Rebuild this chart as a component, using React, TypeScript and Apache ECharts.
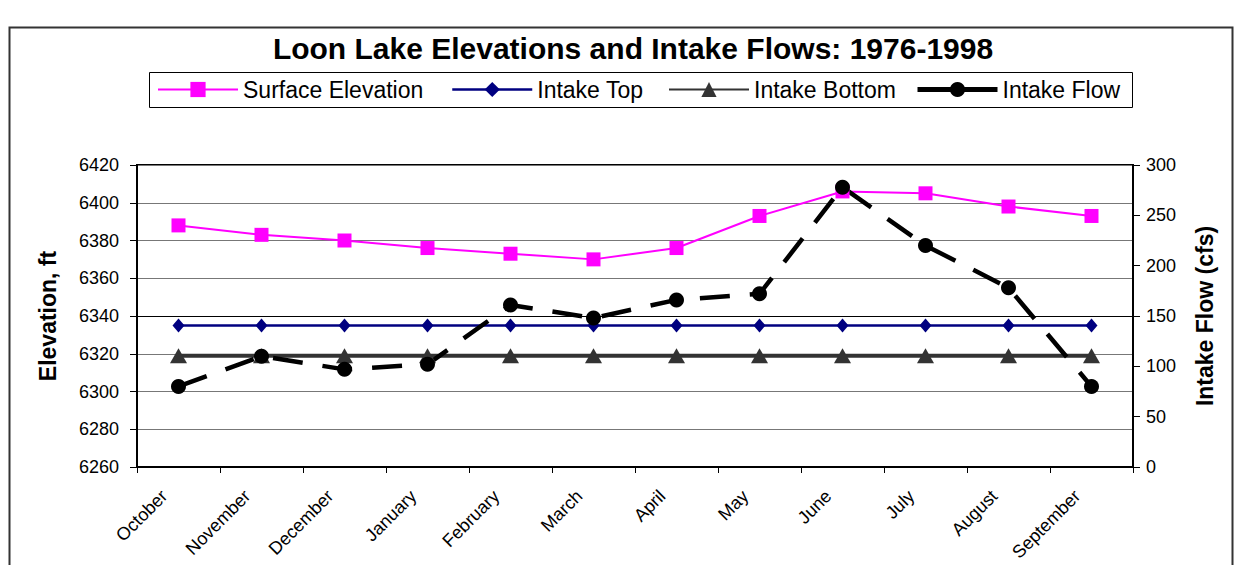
import React, { useEffect, useRef } from "react";
import * as echarts from "echarts";

const months = ["October", "November", "December", "January", "February", "March", "April", "May", "June", "July", "August", "September"];
const surfaceElevation = [6388, 6383, 6380, 6376, 6373, 6370, 6376, 6393, 6406, 6405, 6398, 6393];
const intakeTop = [6335, 6335, 6335, 6335, 6335, 6335, 6335, 6335, 6335, 6335, 6335, 6335];
const intakeBottom = [6319, 6319, 6319, 6319, 6319, 6319, 6319, 6319, 6319, 6319, 6319, 6319];
const intakeFlow = [80, 110, 97, 102, 161, 148, 166, 172, 278, 220, 178, 80];
const seriesNames = ["Surface Elevation", "Intake Top", "Intake Bottom", "Intake Flow"];

const FONT = "'Liberation Sans', Arial, Helvetica, sans-serif";
const legendLefts = [157, 451, 668, 915];
const legendLineWidths = [2, 2.5, 2, 5];

export default function App() {
  const ref = useRef<HTMLDivElement>(null);
  useEffect(() => {
    document.body.style.margin = "0";
    const chart = echarts.init(ref.current!, null, { renderer: "svg" });
    chart.setOption({
      animation: false,
      backgroundColor: "#fff",
      textStyle: { fontFamily: FONT },
      title: {
        text: "Loon Lake Elevations and Intake Flows: 1976-1998",
        left: 628,
        textAlign: "center",
        top: 28,
        textStyle: { fontFamily: FONT, fontSize: 30, fontWeight: "bold", color: "#000" },
      },
      graphic: [
        {
          type: "rect",
          shape: { x: 9.5, y: 27.5, width: 1223, height: 600 },
          style: { fill: "none", stroke: "#333", lineWidth: 2 },
          silent: true,
        },
        {
          type: "rect",
          shape: { x: 149.5, y: 72.5, width: 983, height: 35 },
          style: { fill: "none", stroke: "#000", lineWidth: 1 },
          silent: true,
          z: 10,
        },
      ],
      legend: seriesNames.map((name, i) => ({
        left: legendLefts[i],
        top: 78,
        padding: 0,
        itemWidth: 80,
        itemHeight: 19,
        lineStyle: { type: "solid", width: legendLineWidths[i] },
        textStyle: { fontFamily: FONT, fontSize: 23, color: "#000" },
        data: [name],
      })),
      grid: {
        left: 137,
        right: 103,
        top: 165,
        bottom: 98,
        show: true,
        borderColor: "#000",
        borderWidth: 2,
      },
      xAxis: {
        type: "category",
        data: months,
        boundaryGap: true,
        axisLine: { lineStyle: { color: "#000", width: 2 } },
        axisTick: { show: true, length: 6, lineStyle: { color: "#000", width: 1 } },
        axisLabel: {
          rotate: 45,
          fontSize: 18,
          color: "#000",
          margin: 12,
          fontFamily: FONT,
          interval: 0,
          padding: [0, 20, 0, 0],
        },
      },
      yAxis: [
        {
          type: "value",
          min: 6260,
          max: 6420,
          interval: 20,
          name: "Elevation, ft",
          nameLocation: "middle",
          nameGap: 78,
          nameTextStyle: { fontFamily: FONT, fontSize: 23, fontWeight: "bold", color: "#000" },
          axisLine: { show: true, lineStyle: { color: "#000", width: 2 } },
          axisTick: { show: true, length: 7, lineStyle: { color: "#000", width: 1 } },
          axisLabel: { fontSize: 18, color: "#000", margin: 18, fontFamily: FONT, formatter: (v: number) => String(v) },
          splitLine: {
            show: true,
            lineStyle: { color: ["#777", "#777", "#777", "#777", "#000", "#777", "#777", "#777", "#777"], width: 1 },
          },
        },
        {
          type: "value",
          min: 0,
          max: 300,
          interval: 50,
          position: "right",
          name: "Intake Flow (cfs)",
          nameLocation: "middle",
          nameGap: 60,
          nameTextStyle: { fontFamily: FONT, fontSize: 23, fontWeight: "bold", color: "#000" },
          axisLine: { show: true, lineStyle: { color: "#000", width: 2 } },
          axisTick: { show: true, length: 7, lineStyle: { color: "#000", width: 1 } },
          axisLabel: { fontSize: 18, color: "#000", margin: 13, fontFamily: FONT, formatter: (v: number) => String(v) },
          splitLine: { show: false },
        },
      ],
      series: [
        {
          name: seriesNames[0],
          type: "line",
          data: surfaceElevation,
          yAxisIndex: 0,
          symbol: "rect",
          symbolSize: 14,
          itemStyle: { color: "#FF00FF" },
          lineStyle: { color: "#FF00FF", width: 2 },
        },
        {
          name: seriesNames[1],
          type: "line",
          data: intakeTop,
          yAxisIndex: 0,
          symbol: "diamond",
          symbolSize: [12, 14],
          itemStyle: { color: "#000080" },
          lineStyle: { color: "#000080", width: 2.5 },
        },
        {
          name: seriesNames[2],
          type: "line",
          data: intakeBottom,
          yAxisIndex: 0,
          symbol: "triangle",
          symbolSize: [17, 15],
          itemStyle: { color: "#333333" },
          lineStyle: { color: "#333333", width: 4 },
        },
        {
          name: seriesNames[3],
          type: "line",
          data: intakeFlow,
          yAxisIndex: 1,
          symbol: "circle",
          symbolSize: 15,
          itemStyle: { color: "#000" },
          lineStyle: { color: "#000", width: 4.5, type: [30, 20] },
        },
      ],
    });
    return () => chart.dispose();
  }, []);
  return <div ref={ref} style={{ width: 1236, height: 565, position: "absolute", left: 0, top: 0 }} />;
}
